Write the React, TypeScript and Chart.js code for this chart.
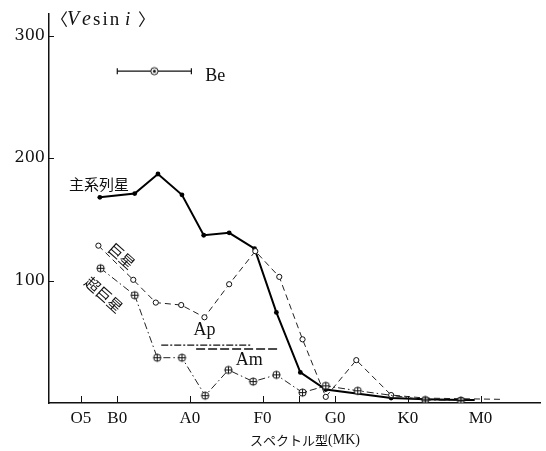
import React, { useEffect, useRef } from 'react';
import { Chart, registerables } from 'chart.js';

Chart.register(...registerables);

// Spectral type axis: numeric position (O5=5, B0=10, A0=20, F0=30, G0=40, K0=50, M0=60)
const tickValues = [5, 10, 20, 30, 35, 40, 50, 60];
const tickLabels = ['O5', 'B0', 'A0', 'F0', '', 'G0', 'K0', 'M0'];
const yTickValues = [100, 200, 300];

// Main sequence (主系列星)
const mainX = [7.6, 12.4, 15.6, 18.9, 21.9, 25.4, 28.9, 31.9, 35.2, 38.7, 47.7, 52.4, 57.3, 59.2];
const mainY = [168, 171, 187, 170, 137, 139, 126, 74, 25, 11, 4, 3, 2.5, 2.5];

// Giants (巨星)
const giantX = [7.4, 12.2, 15.3, 18.8, 22.0, 25.4, 29.0, 32.3, 35.5, 38.7, 42.9, 47.7, 52.4, 57.3, 62.8];
const giantY = [128.5, 100.6, 82, 80, 70, 97, 124, 103, 52, 5, 35, 6.5, 4, 3.5, 3];
const giantMarked = [1, 1, 1, 1, 1, 1, 1, 1, 1, 1, 1, 1, 0, 0, 0];

// Supergiants (超巨星)
const superX = [7.7, 12.4, 15.5, 18.9, 22.1, 25.3, 28.7, 31.9, 35.5, 38.7, 43.1, 52.4, 57.3];
const superY = [110, 88, 37, 37, 6, 27, 17.5, 23, 8.5, 14, 10, 2.5, 2];

// Be stars: range B0..A0 with mean
const beX = [10.0, 15.1, 20.2];
const beY = [271, 271, 271];

// Ap and Am ranges
const apX = [16.05, 28.4];
const apY = [47.2, 47.2];
const amX = [20.85, 32.0];
const amY = [44.1, 44.1];

const SERIF = '"Liberation Serif", "DejaVu Serif", serif';
const CJK = '"Noto Sans CJK JP", "Noto Sans CJK SC", sans-serif';

const annotations = [
  { text: '主系列星', x: 7.5, y: 179, rot: 0, font: `15px ${CJK}` },
  { text: '巨星', x: 10.6, y: 120, rot: 42, font: `15px ${CJK}` },
  { text: '超巨星', x: 8.15, y: 88.5, rot: 42, font: `15px ${CJK}` },
  { text: 'Be', x: 23.5, y: 266.5, rot: 0, font: `18px ${SERIF}` },
  { text: 'Ap', x: 22.0, y: 59.5, rot: 0, font: `18px ${SERIF}` },
  { text: 'Am', x: 28.15, y: 35, rot: 0, font: `18px ${SERIF}` },
];

function makeMarker(kind: 'oplus' | 'odot', fill = '#fff') {
  const c = document.createElement('canvas');
  c.width = 11;
  c.height = 11;
  const g = c.getContext('2d')!;
  g.lineWidth = 1;
  g.strokeStyle = '#111';
  g.fillStyle = fill;
  g.beginPath();
  g.arc(5.5, 5.5, 3.6, 0, Math.PI * 2);
  g.fill();
  g.stroke();
  if (kind === 'oplus') {
    g.beginPath();
    g.moveTo(1.9, 5.5);
    g.lineTo(9.1, 5.5);
    g.moveTo(5.5, 1.9);
    g.lineTo(5.5, 9.1);
    g.stroke();
  } else {
    g.fillStyle = '#111';
    g.beginPath();
    g.arc(5.5, 5.5, 1.5, 0, Math.PI * 2);
    g.fill();
  }
  return c;
}

const pts = (xs: number[], ys: number[]) => xs.map((x, i) => ({ x, y: ys[i] }));

export default function App() {
  const ref = useRef<HTMLCanvasElement>(null);

  useEffect(() => {
    document.body.style.margin = '0';
    const canvas = ref.current!;
    const oplus = makeMarker('oplus');
    const oplusDark = makeMarker('oplus', '#999');
    const odot = makeMarker('odot');

    const decor = {
      id: 'decor',
      beforeDraw(chart: any) {
        const { ctx } = chart;
        ctx.save();
        ctx.fillStyle = '#fff';
        ctx.fillRect(0, 0, chart.width, chart.height);
        ctx.restore();
      },
      afterDraw(chart: any) {
        const { ctx, chartArea } = chart;
        const xs = chart.scales.x;
        const ys = chart.scales.y;
        ctx.save();
        ctx.strokeStyle = '#111';
        ctx.lineWidth = 1;
        for (const v of tickValues) {
          const px = Math.round(xs.getPixelForValue(v)) + 0.5;
          ctx.beginPath();
          ctx.moveTo(px, chartArea.bottom);
          ctx.lineTo(px, chartArea.bottom - 7);
          ctx.stroke();
        }
        for (const v of yTickValues) {
          const py = Math.round(ys.getPixelForValue(v)) + 0.5;
          ctx.beginPath();
          ctx.moveTo(chartArea.left, py);
          ctx.lineTo(chartArea.left + 5, py);
          ctx.stroke();
        }
        // annotations
        ctx.fillStyle = '#111';
        ctx.textBaseline = 'middle';
        for (const a of annotations) {
          const px = xs.getPixelForValue(a.x);
          const py = ys.getPixelForValue(a.y);
          ctx.save();
          ctx.translate(px, py);
          ctx.rotate((a.rot * Math.PI) / 180);
          ctx.font = a.font;
          ctx.textAlign = 'center';
          ctx.fillText(a.text, 0, 0);
          ctx.restore();
        }
        // y-axis title  〈Ve sin i〉
        const yT = 20;
        ctx.textAlign = 'left';
        ctx.font = `17px ${CJK}`;
        ctx.fillText('〈', 51, yT);
        ctx.font = `italic 20px ${SERIF}`;
        ctx.fillText('V', 67, yT);
        ctx.fillText('e', 82, yT);
        ctx.font = `19px ${SERIF}`;
        (ctx as any).letterSpacing = '2px';
        ctx.fillText('sin', 93, yT);
        (ctx as any).letterSpacing = '0px';
        ctx.font = `italic 19px ${SERIF}`;
        ctx.fillText('i', 125, yT);
        ctx.font = `17px ${CJK}`;
        ctx.fillText('〉', 138, yT);
        // x-axis title
        ctx.font = `13px ${CJK}`;
        const t1 = 'スペクトル型';
        const w1 = ctx.measureText(t1).width;
        ctx.font = `14px ${SERIF}`;
        const t2 = '(MK)';
        const w2 = ctx.measureText(t2).width;
        const x0 = 305 - (w1 + w2) / 2;
        ctx.font = `13px ${CJK}`;
        ctx.fillText(t1, x0, 440);
        ctx.font = `14px ${SERIF}`;
        ctx.fillText(t2, x0 + w1, 440);
        ctx.restore();
      },
    };

    const chart = new Chart(canvas, {
      type: 'scatter',
      data: {
        datasets: [
          {
            label: '超巨星',
            data: pts(superX, superY),
            showLine: true,
            borderColor: '#222',
            borderWidth: 1,
            borderDash: [7, 3, 1.5, 3],
            pointStyle: superX.map((_, i) => (i >= superX.length - 2 ? oplusDark : oplus)) as any,
            pointRadius: 4,
          },
          {
            label: '巨星',
            data: pts(giantX, giantY),
            showLine: true,
            borderColor: '#222',
            borderWidth: 1,
            borderDash: [6, 4],
            pointStyle: 'circle',
            pointRadius: giantMarked.map((m) => (m ? 2.6 : 0)),
            pointBackgroundColor: '#fff',
            pointBorderColor: '#111',
            pointBorderWidth: 1,
          },
          {
            label: '主系列星',
            data: pts(mainX, mainY),
            showLine: true,
            borderColor: '#000',
            borderWidth: 2,
            pointStyle: 'circle',
            pointRadius: mainX.map((_, i) => (i === mainX.length - 1 ? 0 : 2.4)),
            pointBackgroundColor: '#000',
            pointBorderWidth: 0,
          },
          {
            label: 'Be',
            data: pts(beX, beY),
            showLine: true,
            borderColor: '#111',
            borderWidth: 1.4,
            pointStyle: ['line', odot, 'line'] as any,
            pointRotation: [90, 0, 90],
            pointRadius: [3, 4, 3],
            pointBorderColor: '#111',
            pointBorderWidth: 1.2,
          },
          {
            label: 'Ap',
            data: pts(apX, apY),
            showLine: true,
            borderColor: '#111',
            borderWidth: 1.2,
            borderDash: [7, 2, 2, 2],
            pointRadius: 0,
          },
          {
            label: 'Am',
            data: pts(amX, amY),
            showLine: true,
            borderColor: '#111',
            borderWidth: 1.3,
            borderDash: [9, 3],
            pointRadius: 0,
          },
        ],
      },
      options: {
        responsive: false,
        animation: false,
        devicePixelRatio: 1,
        events: [],
        layout: { padding: { top: 12, right: 3, left: 0, bottom: 0 } },
        plugins: { legend: { display: false }, tooltip: { enabled: false } },
        scales: {
          x: {
            type: 'linear',
            min: 0.6,
            max: 68.3,
            afterBuildTicks: (s: any) => {
              s.ticks = tickValues.map((v) => ({ value: v }));
            },
            afterFit: (s: any) => {
              s.height = 48;
            },
            grid: { display: true, drawOnChartArea: false, drawTicks: false },
            border: { display: true, color: '#111', width: 1.5 },
            ticks: {
              autoSkip: false,
              maxRotation: 0,
              padding: 5,
              color: '#111',
              font: { family: SERIF, size: 17 },
              callback: (_v: any, i: number) => tickLabels[i] ?? '',
            },
          },
          y: {
            type: 'linear',
            min: 0,
            max: 318,
            afterBuildTicks: (s: any) => {
              s.ticks = yTickValues.map((v) => ({ value: v }));
            },
            afterFit: (s: any) => {
              s.width = 49;
            },
            grid: { display: true, drawOnChartArea: false, drawTicks: false },
            border: { display: true, color: '#111', width: 1.5 },
            ticks: {
              padding: 4,
              color: '#111',
              font: { family: '"DejaVu Serif", serif', size: 16 },
              callback: (v: any) => String(v),
            },
          },
        },
      },
      plugins: [decor],
    } as any);

    return () => chart.destroy();
  }, []);

  return (
    <div style={{ width: 546, height: 451, background: '#fff' }}>
      <canvas ref={ref} width={546} height={451} style={{ display: 'block', width: 546, height: 451 }} />
    </div>
  );
}
